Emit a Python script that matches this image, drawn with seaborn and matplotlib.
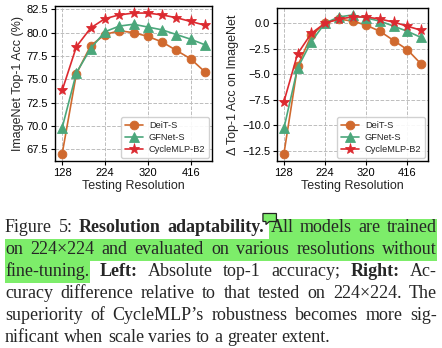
import numpy as np
import pandas as pd
import seaborn as sns
import matplotlib
matplotlib.use("Agg")
import matplotlib.pyplot as plt
from matplotlib.patches import Rectangle, Polygon

# Top-1 accuracy (%) on ImageNet at each test resolution
resolutions = [128, 160, 192, 224, 256, 288, 320, 352, 384, 416, 448]
deit_s = [67.0, 75.6, 78.6, 79.8, 80.2, 80.0, 79.6, 79.0, 78.1, 77.2, 75.8]
gfnet_s = [69.8, 75.7, 78.3, 80.1, 80.7, 80.9, 80.6, 80.3, 79.8, 79.3, 78.7]
cyclemlp_b2 = [73.8, 78.5, 80.5, 81.5, 81.9, 82.1, 82.1, 81.9, 81.6, 81.2, 80.8]
model_names = ["DeiT-S", "GFNet-S", "CycleMLP-B2"]
train_res = 224
x_ticks = [128, 224, 320, 416]
left_yticks = [67.5, 70.0, 72.5, 75.0, 77.5, 80.0, 82.5]
right_yticks = [-12.5, -10.0, -7.5, -5.0, -2.5, 0.0]

sns.set_theme(style="whitegrid", rc={
    "axes.edgecolor": "black",
    "axes.linewidth": 1.0,
    "grid.linestyle": "--",
    "grid.color": "#bdbdbd",
    "grid.linewidth": 0.7,
    "xtick.bottom": True,
    "ytick.left": True,
    "xtick.major.size": 3,
    "ytick.major.size": 3,
    "xtick.major.width": 0.8,
    "ytick.major.width": 0.8,
    "xtick.color": "black",
    "ytick.color": "black",
})
plt.rcParams["font.family"] = ["Liberation Sans", "DejaVu Sans"]

W, H = 442, 348
fig = plt.figure(figsize=(W / 100, H / 100), dpi=100)

def px_box(x0, y0, x1, y1):
    return [x0 / W, 1 - y1 / H, (x1 - x0) / W, (y1 - y0) / H]

ax_l = fig.add_axes(px_box(55, 6, 212, 161))
ax_r = fig.add_axes(px_box(277, 8, 428, 161))

colors = ["#d0692e", "#4ba77b", "#dc2a30"]
markers = ["o", "^", "*"]
msizes = [6.3, 6.8, 8.0]

acc = pd.DataFrame({"res": resolutions, model_names[0]: deit_s,
                    model_names[1]: gfnet_s, model_names[2]: cyclemlp_b2})
base_idx = resolutions.index(train_res)

for ax, relative in [(ax_l, False), (ax_r, True)]:
    for name, c, m, ms in zip(model_names, colors, markers, msizes):
        vals = np.array(acc[name], dtype=float)
        if relative:
            vals = np.round(vals - vals[base_idx], 2)
        sns.lineplot(x=acc["res"], y=vals, ax=ax, color=c, marker=m,
                     markersize=ms, markeredgecolor=c, markeredgewidth=0.6,
                     linewidth=1.2, label=name)
    ax.set_xticks(x_ticks)
    ax.set_xlabel("Testing Resolution", fontsize=9, labelpad=1.5)
    ax.tick_params(axis="both", labelsize=8, pad=2)
    ax.legend(loc="lower right", fontsize=6.7, frameon=True, fancybox=True,
              edgecolor="#cccccc", framealpha=0.9, borderaxespad=0.3,
              handlelength=2.0, handletextpad=0.6, labelspacing=0.35,
              borderpad=0.4)
    for s in ax.spines.values():
        s.set_color("black")

ax_l.set_yticks(left_yticks)
ax_l.set_ylabel("ImageNet Top-1 Acc (%)", fontsize=9, labelpad=2)
ax_r.set_yticks(right_yticks)
ax_r.set_ylabel("\u0394 Top-1 Acc on ImageNet", fontsize=9, labelpad=2)

# ---- caption, fully justified ----
caption_lines = [
    [("Figure 5:", False), ("Resolution adaptability.", True), ("All models are trained", False)],
    [("on 224\u00d7224 and evaluated on various resolutions without", False)],
    [("fine-tuning.", False), ("Left:", True), ("Absolute top-1 accuracy;", False), ("Right:", True), ("Ac-", False)],
    [("curacy difference relative to that tested on 224\u00d7224. The", False)],
    [("superiority of CycleMLP\u2019s robustness becomes more sig-", False)],
    [("nificant when scale varies to a greater extent.", False)],
]
cap_font = ["Liberation Serif", "DejaVu Serif"]
cap_size = 13.0
x_left, x_right = 5.0, 437.0
base0, line_gap = 232.5, 21.8
hl_color = "#7ded6a"

renderer = fig.canvas.get_renderer()
space_t = fig.text(0, 0, "a a", fontsize=cap_size, family=cap_font)
aa_t = fig.text(0, 0, "aa", fontsize=cap_size, family=cap_font)
space_w = space_t.get_window_extent(renderer).width - aa_t.get_window_extent(renderer).width
space_t.remove()
aa_t.remove()

word_pos = []  # (line, word, x0, x1)
for li, segs in enumerate(caption_lines):
    words = []
    for seg, bold in segs:
        for w in seg.split(" "):
            words.append((w, bold))
    arts = []
    widths = []
    for w, bold in words:
        t = fig.text(0, 0, w, fontsize=cap_size, family=cap_font,
                     fontweight="bold" if bold else "normal",
                     va="baseline", ha="left", zorder=5)
        arts.append(t)
        widths.append(t.get_window_extent(renderer).width)
    last = li == len(caption_lines) - 1
    if last or len(words) == 1:
        gap = space_w
    else:
        gap = (x_right - x_left - sum(widths)) / (len(words) - 1)
    x = x_left
    yb = base0 + li * line_gap
    for t, wd, (w, _) in zip(arts, widths, words):
        t.set_position((x / W, 1 - yb / H))
        word_pos.append((li, w, x, x + wd))
        x += wd + gap

def highlight(x0, x1, li, top_off=15.0, bot_off=6.8):
    yb = base0 + li * line_gap
    y0, y1 = yb - top_off, yb + bot_off
    fig.add_artist(Rectangle((x0 / W, 1 - y1 / H), (x1 - x0) / W, (y1 - y0) / H,
                             transform=fig.transFigure, facecolor=hl_color,
                             edgecolor="none", zorder=1))

all_x = [p for p in word_pos if p[0] == 0 and p[1] == "All"][0][2]
highlight(all_x - 1, x_right, 0, top_off=13.5)
highlight(x_left, x_right, 1)
ft_end = [p for p in word_pos if p[0] == 2 and p[1] == "fine-tuning."][0][3]
highlight(x_left, ft_end + 1, 2)

# small annotation note marker, just left of the highlighted sentence
nx = all_x - 7.5
note_px = [(nx, 213.5), (nx + 13.5, 213.5), (nx + 13.5, 221.5), (nx + 6.5, 221.5),
           (nx + 3, 224.5), (nx + 3, 221.5), (nx, 221.5)]
fig.add_artist(Polygon([(x / W, 1 - y / H) for x, y in note_px], closed=True,
                       transform=fig.transFigure, facecolor=hl_color,
                       edgecolor="#222222", linewidth=0.9, zorder=6))

fig.savefig("out.png", dpi=100)
